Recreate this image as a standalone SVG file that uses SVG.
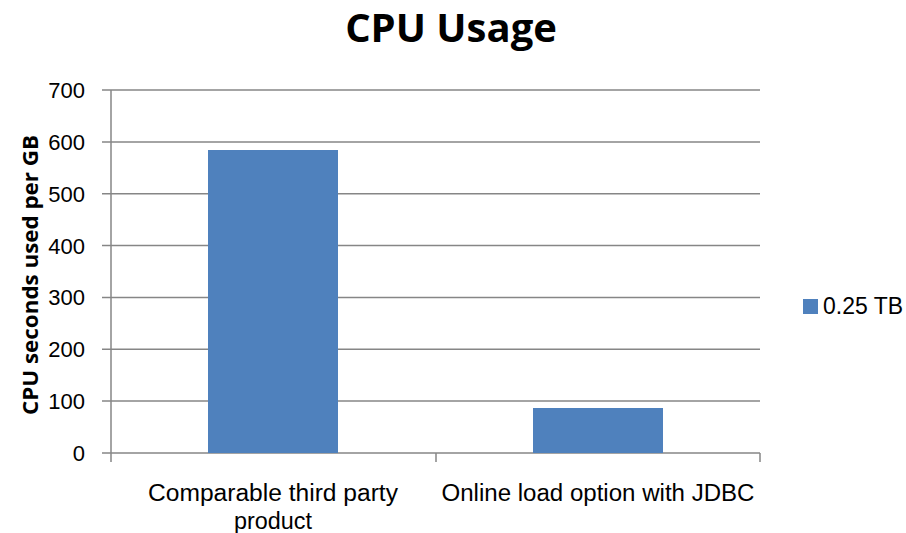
<svg xmlns="http://www.w3.org/2000/svg" width="906" height="533" viewBox="0 0 906 533">
<style>
.grid{stroke:#868686;stroke-width:1.5;fill:none}
.bar{fill:#4F81BD}
.t{font-family:"Liberation Sans",Arial,sans-serif;font-size:22px;fill:#000}
.c{font-family:"Liberation Sans",Arial,sans-serif;font-size:23px;fill:#000}
.tick{text-anchor:end}
.cat{text-anchor:middle}
.title{font-family:"Open Sans","Liberation Sans",sans-serif;font-weight:bold;font-size:40px;text-anchor:middle}
.ylab{font-family:"Open Sans","Liberation Sans",sans-serif;font-weight:bold;font-size:22px;text-anchor:middle}
</style>
<rect width="906" height="533" fill="#fff"/>
<text class="title" x="451" y="42">CPU Usage</text>
<g id="gridlines" class="grid">
<path d="M102 90H760M102 141.9H760M102 193.7H760M102 245.6H760M102 297.4H760M102 349.3H760M102 401.1H760M102 453H760"/>
<path d="M111 90V462M436 453V462M760 453V462"/>
</g>
<g id="ticks" class="t tick">
<text x="85" y="98">700</text>
<text x="85" y="150">600</text>
<text x="85" y="202">500</text>
<text x="85" y="253.6">400</text>
<text x="85" y="305.4">300</text>
<text x="85" y="357.3">200</text>
<text x="85" y="409.1">100</text>
<text x="85" y="461">0</text>
</g>
<g id="bar1"><rect class="bar" x="208" y="150" width="130" height="303"/></g>
<g id="bar2"><rect class="bar" x="533" y="408" width="130" height="45"/></g>
<g id="cats" class="c cat">
<text x="273" y="501" textLength="250" lengthAdjust="spacingAndGlyphs">Comparable third party</text>
<text x="273" y="529" textLength="78" lengthAdjust="spacingAndGlyphs">product</text>
<text x="598" y="501" textLength="313" lengthAdjust="spacingAndGlyphs">Online load option with JDBC</text>
</g>
<text class="ylab" transform="translate(38,275) rotate(-90)" textLength="280" lengthAdjust="spacingAndGlyphs">CPU seconds used per GB</text>
<g id="legend">
<rect class="bar" x="803" y="299" width="15" height="15"/>
<text class="c" x="823" y="314" textLength="80" lengthAdjust="spacingAndGlyphs">0.25 TB</text>
</g>
</svg>
